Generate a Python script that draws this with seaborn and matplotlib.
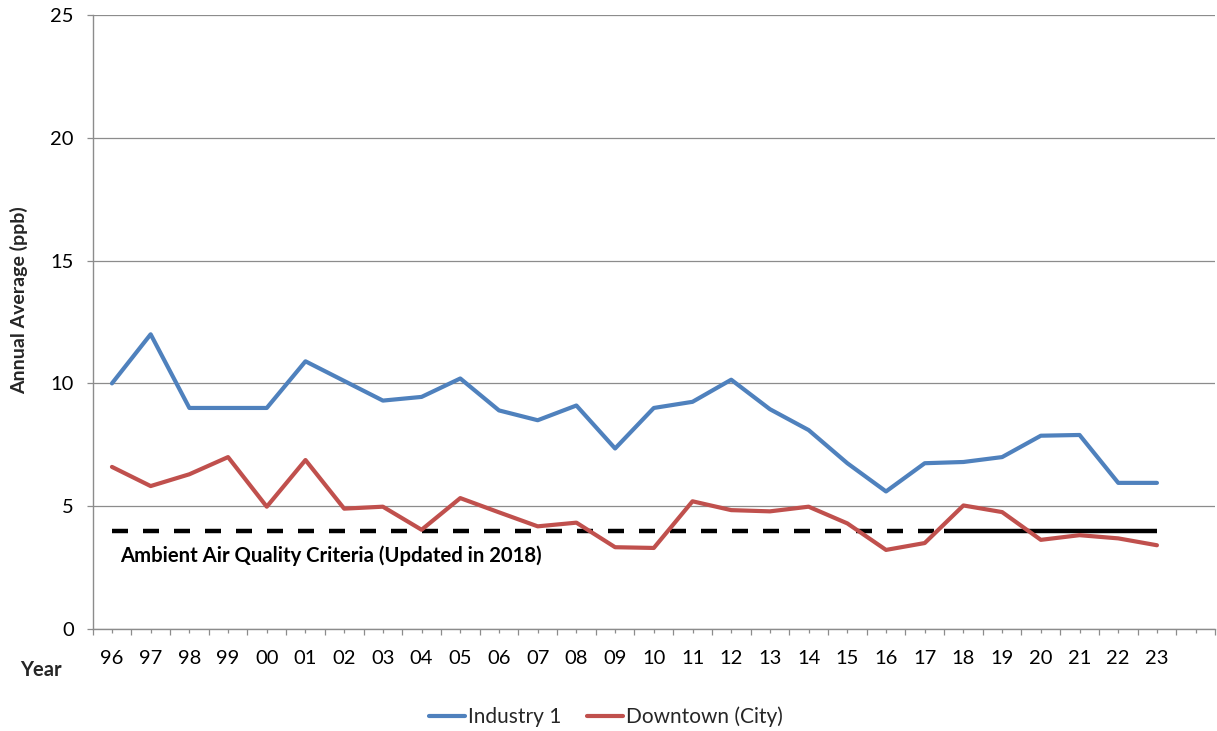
import numpy as np
import pandas as pd
import matplotlib
matplotlib.use("Agg")
import matplotlib.pyplot as plt
import seaborn as sns
from matplotlib.ticker import FixedLocator, NullFormatter

# ---------------- data ----------------
years = ["96", "97", "98", "99", "00", "01", "02", "03", "04", "05", "06", "07",
         "08", "09", "10", "11", "12", "13", "14", "15", "16", "17", "18", "19",
         "20", "21", "22", "23"]
extra_slot = [""]  # empty trailing category on the axis
industry1 = [10.0, 12.0, 9.0, 9.0, 9.0, 10.9, 10.1, 9.3, 9.45, 10.2, 8.9, 8.5,
             9.1, 7.35, 9.0, 9.25, 10.15, 8.95, 8.1, 6.75, 5.6, 6.75, 6.8, 7.0,
             7.87, 7.9, 5.95, 5.95]
downtown = [6.6, 5.82, 6.3, 7.0, 4.98, 6.88, 4.9, 4.98, 4.04, 5.33, 4.75, 4.18,
            4.33, 3.33, 3.3, 5.2, 4.84, 4.79, 4.98, 4.3, 3.22, 3.5, 5.03, 4.76,
            3.63, 3.82, 3.69, 3.41]
criteria_value = 4.0
criteria_update_year = "18"
series_names = ["Industry 1", "Downtown (City)"]
y_ticks = [0, 5, 10, 15, 20, 25]

# ---------------- build table ----------------
all_labels = years + extra_slot
idx = np.arange(len(years))
df = pd.DataFrame({
    "pos": np.concatenate([idx, idx]),
    "value": industry1 + downtown,
    "series": [series_names[0]] * len(years) + [series_names[1]] * len(years),
})

# ---------------- figure ----------------
sns.set_theme(style="white")
plt.rcParams["font.family"] = ["Lato", "DejaVu Sans"]

W, H = 1217, 731
fig = plt.figure(figsize=(W / 100, H / 100), dpi=100)
ax = fig.add_axes([92.6 / W, 1 - 629 / H, (1215 - 92.6) / W, (629 - 15) / H])

palette = {series_names[0]: "#4F81BD", series_names[1]: "#C0504D"}
sns.lineplot(data=df, x="pos", y="value", hue="series", palette=palette,
             linewidth=3.0, ax=ax, legend=True, sort=False)

# criteria line: dashed before the update, solid from the update on
upd = years.index(criteria_update_year) - 0.5
ax.plot([0, upd], [criteria_value, criteria_value], color="black", lw=3.2,
        linestyle=(0, (3.6, 3.375)), solid_capstyle="butt", dash_capstyle="butt", zorder=1.5)
ax.plot([upd, len(years) - 1], [criteria_value, criteria_value], color="black",
        lw=3.2, solid_capstyle="butt", zorder=1.5)

ax.text(0.2, 3.0, "Ambient Air Quality Criteria (Updated in 2018)",
        fontsize=14.6, fontweight="bold", va="center", ha="left", color="black")

# axes limits & ticks
ax.set_xlim(-0.5, len(all_labels) - 0.5)
ax.set_ylim(0, 25)
ax.set_yticks(y_ticks)
ax.set_yticklabels([str(v) for v in y_ticks])
ax.set_xticks(np.arange(len(all_labels)))
ax.set_xticklabels(all_labels)
ax.xaxis.set_minor_locator(FixedLocator(np.arange(len(all_labels) + 1) - 0.5))
ax.xaxis.set_minor_formatter(NullFormatter())

grid_c = "#8C8C8C"
ax.yaxis.grid(True, color=grid_c, linewidth=0.9)
ax.xaxis.grid(False)
ax.set_axisbelow(True)
for s in ["top", "right"]:
    ax.spines[s].set_visible(False)
for s in ["left", "bottom"]:
    ax.spines[s].set_color(grid_c)
    ax.spines[s].set_linewidth(1.0)

ax.tick_params(axis="y", which="major", direction="out", length=4.5, width=0.9,
               color=grid_c, pad=9, labelsize=14.5, labelcolor="black", left=True)
ax.tick_params(axis="x", which="major", direction="out", length=3.0, width=0.9,
               color=grid_c, pad=12, labelsize=14.5, labelcolor="black", bottom=True)
ax.tick_params(axis="x", which="minor", direction="out", length=4.5, width=0.9,
               color=grid_c, bottom=True)

ax.set_xlabel("")
ax.set_ylabel("")
fig.text(19 / W, 1 - 300 / H, "Annual Average (ppb)", rotation=90, fontsize=14,
         fontweight="bold", ha="center", va="center")
fig.text(41 / W, 1 - 670 / H, "Year", fontsize=14.5, fontweight="bold",
         ha="center", va="center")

# legend at the bottom
handles, labels = ax.get_legend_handles_labels()
ax.get_legend().remove()
fig.legend(handles, labels, loc="center", bbox_to_anchor=(606 / W, 1 - 717 / H),
           ncol=2, frameon=False, fontsize=15, handlelength=1.75,
           handletextpad=0.15, columnspacing=1.2)

fig.savefig("out.png", dpi=100)
